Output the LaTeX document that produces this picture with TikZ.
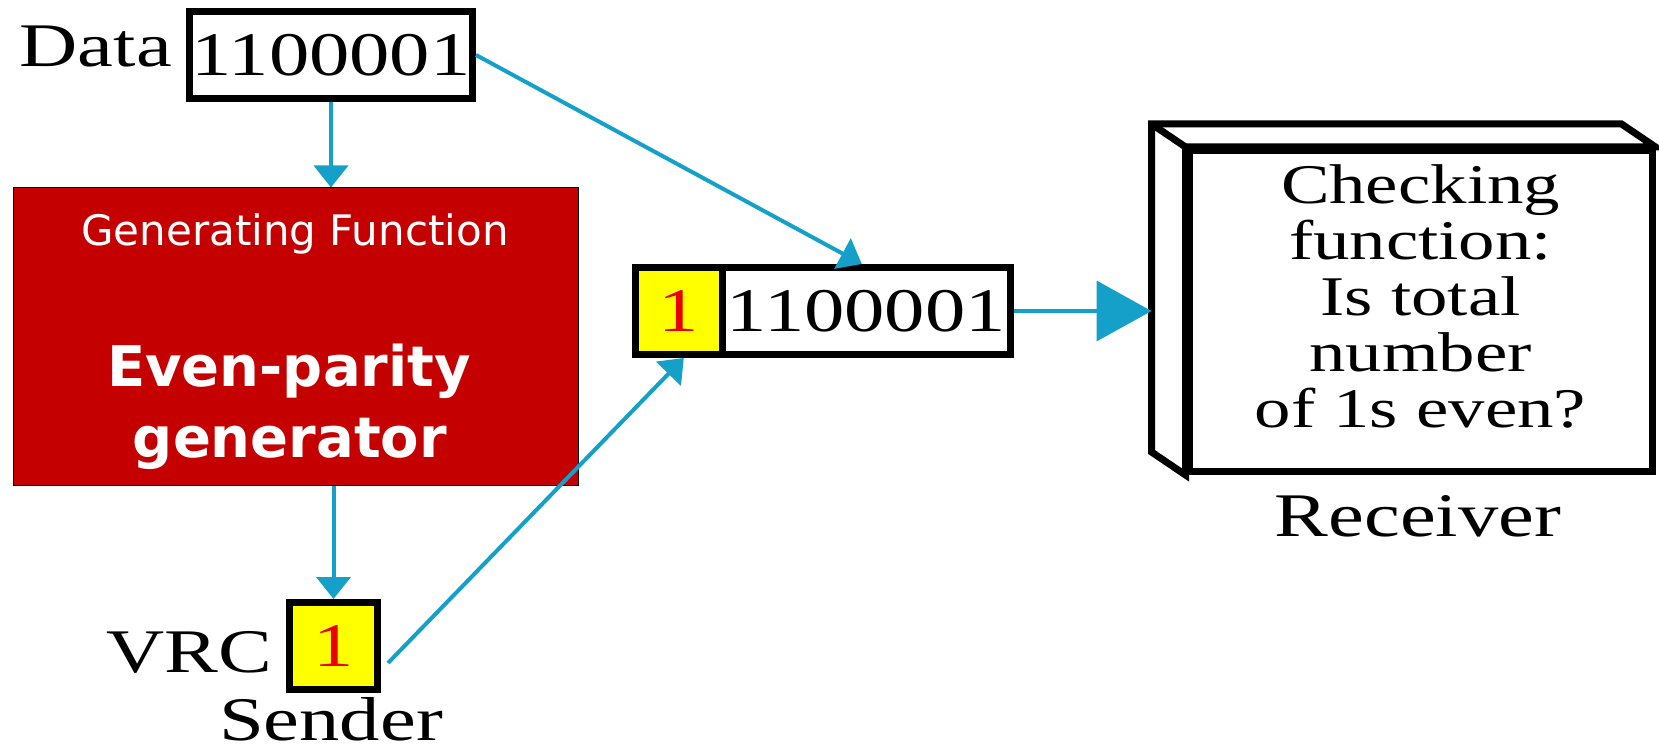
\documentclass[tikz,border=0pt]{standalone}
\usepackage{fontspec}
\setmainfont{Liberation Serif}[FakeStretch=1.3]
\newfontfamily\gensans{DejaVu Sans}
\usepackage{tikz}
\usetikzlibrary{arrows.meta, positioning, calc}
\definecolor{genred}{RGB}{196, 0, 0}
\definecolor{wirecyan}{RGB}{20, 160, 200}
\definecolor{bityellow}{RGB}{255, 255, 0}
\definecolor{bitred}{RGB}{235, 0, 0}

\begin{document}
\begin{tikzpicture}[x=1pt, y=-1pt,
  wordbox/.style={draw, line width=7pt, inner sep=0pt, fill=white, font=\fontsize{62}{62}\selectfont},
  bitbox/.style={wordbox, fill=bityellow, text=bitred},
  lbl/.style={inner sep=0pt, font=\fontsize{62}{62}\selectfont},
  wire/.style={draw=wirecyan, line width=4pt, -{Triangle[length=22pt, width=34pt]}},
  bigwire/.style={draw=wirecyan, line width=4pt, -{Triangle[length=55pt, width=60pt]}}]

  \useasboundingbox (0,0) rectangle (1659,754);

  % Sender: data word
  \node[wordbox, minimum width=283pt, minimum height=87pt] (data) at (331,55) {1100001};
  \node[lbl, anchor=base east] (datalbl) at (172,67) {Data};

  % Generating function block
  \node[draw, fill=genred, line width=1pt, minimum width=565pt, minimum height=297pt] (gen) at (295.5,336.5) {};
  \node[anchor=base, inner sep=0pt, text=white, font=\gensans\fontsize{42}{42}\selectfont] (gentitle) at (295,245) {Generating Function};
  \node[anchor=base, inner sep=0pt, text=white, font=\gensans\bfseries\fontsize{56}{56}\selectfont] (genname) at (289,386) {Even-parity};
  \node[anchor=base, inner sep=0pt, text=white, font=\gensans\bfseries\fontsize{56}{56}\selectfont] (genname2) at (290,457) {generator};

  % VRC bit
  \node[bitbox, minimum width=88pt, minimum height=87pt] (vrc) at (333.5,646) {1};
  \node[lbl, anchor=base east] (vrclbl) at (272,672) {VRC};
  \node[lbl, anchor=base] (sender) at (331,740) {Sender};

  % Transmitted word
  \node[bitbox, minimum width=86.5pt, minimum height=87pt] (parbit) at (678.75,311) {1};
  \node[wordbox, minimum width=288.5pt, minimum height=87pt] (parword) at (866.25,311) {1100001};

  % Receiver (box with depth)
  \node[draw, line width=7pt, fill=white, minimum width=463pt, minimum height=321pt, inner sep=0pt] (recv) at (1420.5,311) {};
  \filldraw[fill=white, line width=7pt, line join=miter]
    (recv.south west) -- ([shift={(-34,-23)}]recv.south west) coordinate (backsw)
    -- ([shift={(-34,-23)}]recv.north west) -- ([shift={(-34,-23)}]recv.north east)
    -- (recv.north east) -- (recv.north west) -- cycle;
  \draw[line width=7pt] (recv.north west) -- ([shift={(-34,-23)}]recv.north west);
  \node[align=center, inner sep=0pt, font=\fontsize{56}{56}\selectfont] (checktext) at ([yshift=15pt]recv.center)
        {Checking\\function:\\Is total\\number\\of 1s even?};
  \node[lbl, anchor=base] (recvlbl) at (1418,536) {Receiver};

  % Connectors
  \draw[wire] (data.south) -- (data.south |- gen.north);
  \draw[wire] (gen.south -| vrc.north) -- (vrc.north);
  \draw[wire] (data.east) -- ($(parword.north west)!0.485!(parword.north east)$);
  \draw[wire] ([shift={(7,17)}]vrc.east) -- ([xshift=5pt]parbit.south);
  \draw[bigwire] (parword.east) -- (parword.east -| backsw);
\end{tikzpicture}
\end{document}
